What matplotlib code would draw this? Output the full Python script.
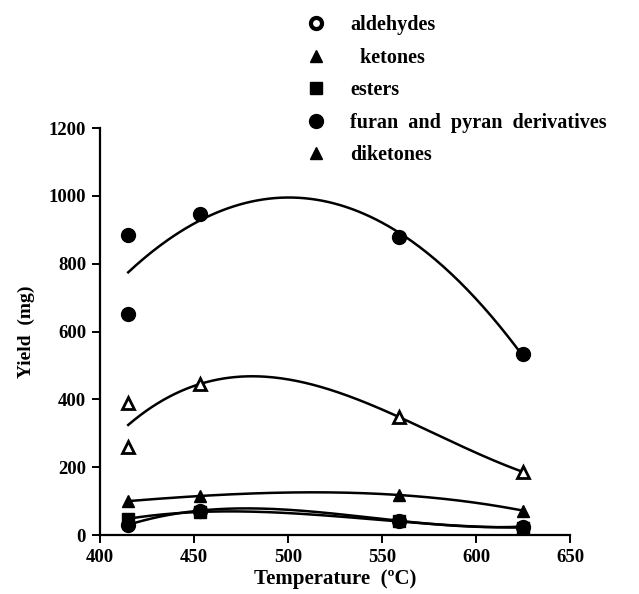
import numpy as np
import matplotlib
matplotlib.use("Agg")
import matplotlib.pyplot as plt
from matplotlib.lines import Line2D

plt.rcParams['font.family'] = ['Liberation Serif', 'DejaVu Serif']
plt.rcParams['font.weight'] = 'bold'

# Data (temperature in °C, yield in mg)
temp_furan = [415, 415, 453, 559, 625]
furan = [885, 652, 947, 878, 533]

temp_diket = [415, 415, 453, 559, 625]
diketones = [389, 260, 445, 348, 186]

temp_low = [415, 453, 559, 625]
ketones = [100, 115, 118, 72]
esters = [48, 68, 40, 22]
aldehydes = [30, 72, 42, 25]

fig = plt.figure(figsize=(6.39, 5.94), dpi=100)
ax = fig.add_axes([0.1565, 0.0993, 0.7355, 0.6852])

def fit_curve(x, y, deg, npts=200):
    c = np.polyfit(x, y, deg)
    xs = np.linspace(min(x), max(x), npts)
    return xs, np.polyval(c, xs)

lw = 1.8
xs, ys = fit_curve(temp_furan, furan, 2)
ax.plot(xs, ys, color='black', lw=lw)
xs, ys = fit_curve(temp_diket, diketones, 3)
ax.plot(xs, ys, color='black', lw=lw)
xs, ys = fit_curve(temp_low, ketones, 3)
ax.plot(xs, ys, color='black', lw=lw)
xs, ys = fit_curve(temp_low, esters, 3)
ax.plot(xs, ys, color='black', lw=lw)
xs, ys = fit_curve(temp_low, aldehydes, 3)
ax.plot(xs, ys, color='black', lw=lw)

ax.plot(temp_furan, furan, 'o', color='black', ms=10, ls='none')
ax.plot(temp_diket, diketones, '^', mfc='white', mec='black', mew=2, ms=8, ls='none')
ax.plot(temp_low, ketones, '^', color='black', ms=9, ls='none')
ax.plot(temp_low, esters, 's', color='black', ms=8, ls='none')
ax.plot(temp_low, aldehydes, 'o', color='black', ms=10, ls='none')

ax.set_xlim(400, 650)
ax.set_ylim(0, 1200)
ax.set_xticks([400, 450, 500, 550, 600, 650])
ax.set_yticks([0, 200, 400, 600, 800, 1000, 1200])
ax.spines['top'].set_visible(False)
ax.spines['right'].set_visible(False)
ax.spines['left'].set_linewidth(1.6)
ax.spines['bottom'].set_linewidth(1.6)
ax.tick_params(direction='out', length=6, width=1.4, labelsize=13.5, pad=4)
for lab in ax.get_xticklabels() + ax.get_yticklabels():
    lab.set_fontweight('bold')

ax.set_xlabel('Temperature  (\u00baC)', fontsize=15, fontweight='bold', labelpad=2)
ax.set_ylabel('Yield  (mg)', fontsize=14, fontweight='bold', labelpad=10)

handles = [
    Line2D([], [], marker='o', ls='none', mfc='white', mec='black', mew=3, ms=8),
    Line2D([], [], marker='^', ls='none', color='black', ms=9),
    Line2D([], [], marker='s', ls='none', color='black', ms=8),
    Line2D([], [], marker='o', ls='none', color='black', ms=10),
    Line2D([], [], marker='^', ls='none', color='black', ms=9),
]
labels = ['aldehydes', '  ketones', 'esters', 'furan  and  pyran  derivatives', 'diketones']
leg = fig.legend(handles, labels, loc='upper left', bbox_to_anchor=(0.435, 1.005),
                 frameon=False, labelspacing=0.62, handletextpad=0.7,
                 prop={'weight': 'bold', 'size': 14.5})

fig.savefig('out.png', dpi=100)
